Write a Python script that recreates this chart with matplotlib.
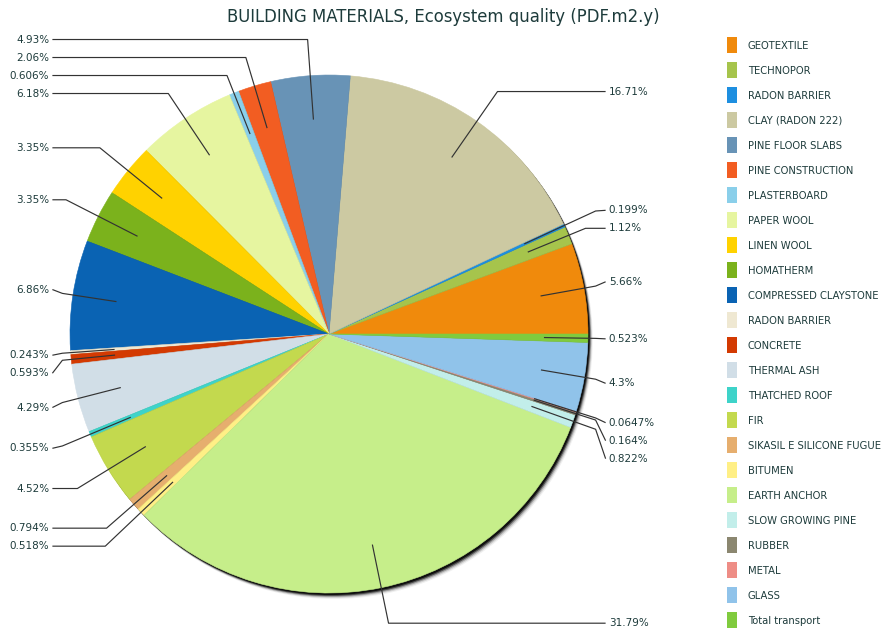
import numpy as np
import matplotlib
matplotlib.use('Agg')
import matplotlib.pyplot as plt
from matplotlib.patches import Circle, Patch, Rectangle
from matplotlib.legend_handler import HandlerPatch

title = "BUILDING MATERIALS, Ecosystem quality (PDF.m2.y)"

materials = ["GEOTEXTILE", "TECHNOPOR", "RADON BARRIER", "CLAY (RADON 222)",
             "PINE FLOOR SLABS", "PINE CONSTRUCTION", "PLASTERBOARD", "PAPER WOOL",
             "LINEN WOOL", "HOMATHERM", "COMPRESSED CLAYSTONE", "RADON BARRIER",
             "CONCRETE", "THERMAL ASH", "THATCHED ROOF", "FIR",
             "SIKASIL E SILICONE FUGUE", "BITUMEN", "EARTH ANCHOR", "SLOW GROWING PINE",
             "RUBBER", "METAL", "GLASS", "Total transport"]

shares = [5.66, 1.12, 0.199, 16.71,
          4.93, 2.06, 0.606, 6.18,
          3.35, 3.35, 6.86, 0.243,
          0.593, 4.29, 0.355, 4.52,
          0.794, 0.518, 31.79, 0.822,
          0.164, 0.0647, 4.3, 0.523]

colors = ["#F08A0C", "#A6C44C", "#1E8FE0", "#CCC9A2",
          "#6893B6", "#F25D22", "#8ACFEA", "#E6F5A0",
          "#FFD200", "#7BB21C", "#0A63B3", "#EFE8D2",
          "#D33A02", "#D1DEE7", "#3ED3C9", "#C3D94E",
          "#E6AE6E", "#FFEF86", "#C6EE8A", "#C2EEEA",
          "#8B8770", "#EE8D86", "#90C3EA", "#80CB3E"]

W, H = 890, 630
cx, cy, R = 329, 334, 259  # pie centre / radius in pixels

fig = plt.figure(figsize=(W / 100, H / 100), dpi=100)
ax = fig.add_axes([0, 0, 1, 1])
ax.axis('off')

# drop shadow
for off, a in [(6, 0.06), (5, 0.12), (4, 0.25), (3, 0.5), (2, 0.8)]:
    ax.add_patch(Circle((off * 0.8 / R, -off / R), 1.0, facecolor='black',
                        edgecolor='none', alpha=a, zorder=0))

wedges, _ = ax.pie(shares, colors=colors, startangle=0, counterclock=True,
                   radius=1.0, center=(0, 0), wedgeprops=dict(linewidth=0.4))
for w, c in zip(wedges, colors):
    w.set_zorder(1)
    w.set_edgecolor(c)

ax.set_xlim(-cx / R, (W - cx) / R)
ax.set_ylim(-(H - cy) / R, cy / R)
ax.set_aspect('auto')

# label layout
k = 1.14
gap = 18.0 / R
line_end = 1.068
label_x = 1.08
x_lim = line_end - 10.0 / R
inner = 0.83

mids = np.radians([(w.theta1 + w.theta2) / 2.0 for w in wedges])
items = []
for i, m in enumerate(mids):
    side = 1 if np.cos(m) >= 0 else -1
    items.append(dict(i=i, m=m, side=side, y=k * np.sin(m)))

for side in (1, -1):
    grp = sorted([it for it in items if it['side'] == side], key=lambda d: -d['y'])
    prev = None
    for it in grp:
        y = it['y']
        if prev is not None:
            y = min(y, prev - gap)
        it['ly'] = y
        prev = y

txt_color = '#1d3b3b'
for it in items:
    m, side, ly = it['m'], it['side'], it['ly']
    c, s = np.cos(m), np.sin(m)
    px, py = inner * c, inner * s
    ts = []
    if abs(s) > 1e-6 and np.sign(ly) == np.sign(s):
        ts.append(ly / s)
    if abs(c) > 1e-6:
        ts.append(x_lim / abs(c))
    t = max(min(ts), inner)
    ex, ey = t * c, t * s
    xs = [px, ex, side * line_end]
    ys = [py, ey, ly]
    ax.plot(xs, ys, color='#333333', lw=0.85, zorder=3, solid_capstyle='butt')
    ax.text(side * label_x, ly, f"{shares[it['i']]:g}%", ha='left' if side > 0 else 'right',
            va='center', fontsize=7.5, color=txt_color, zorder=4)

fig.text(443 / W, 1 - 17 / H, title, ha='center', va='center', fontsize=11.9, color=txt_color)


class TallPatch(HandlerPatch):
    def create_artists(self, legend, orig_handle, xdescent, ydescent, width, height,
                       fontsize, trans):
        rh = 11.5
        rw = 7.2
        yc = 0.36 * fontsize
        p = Rectangle((-xdescent, yc - rh / 2.0), rw, rh,
                      facecolor=orig_handle.get_facecolor(), edgecolor='none')
        p.set_transform(trans)
        return [p]


fs_leg = 7.2
handles = [Patch(facecolor=c, edgecolor='none') for c in colors]
fig.legend(handles, materials, loc='upper left', bbox_to_anchor=(727 / W, 1 - 39 / H),
           frameon=False, fontsize=fs_leg, handlelength=1.0, handleheight=1.65,
           handletextpad=1.1, labelspacing=(18.0 - 9.22 * fs_leg / 7.0) / fs_leg,
           borderpad=0, borderaxespad=0, labelcolor=txt_color,
           handler_map={Patch: TallPatch()})

fig.savefig('out.png', dpi=100)
